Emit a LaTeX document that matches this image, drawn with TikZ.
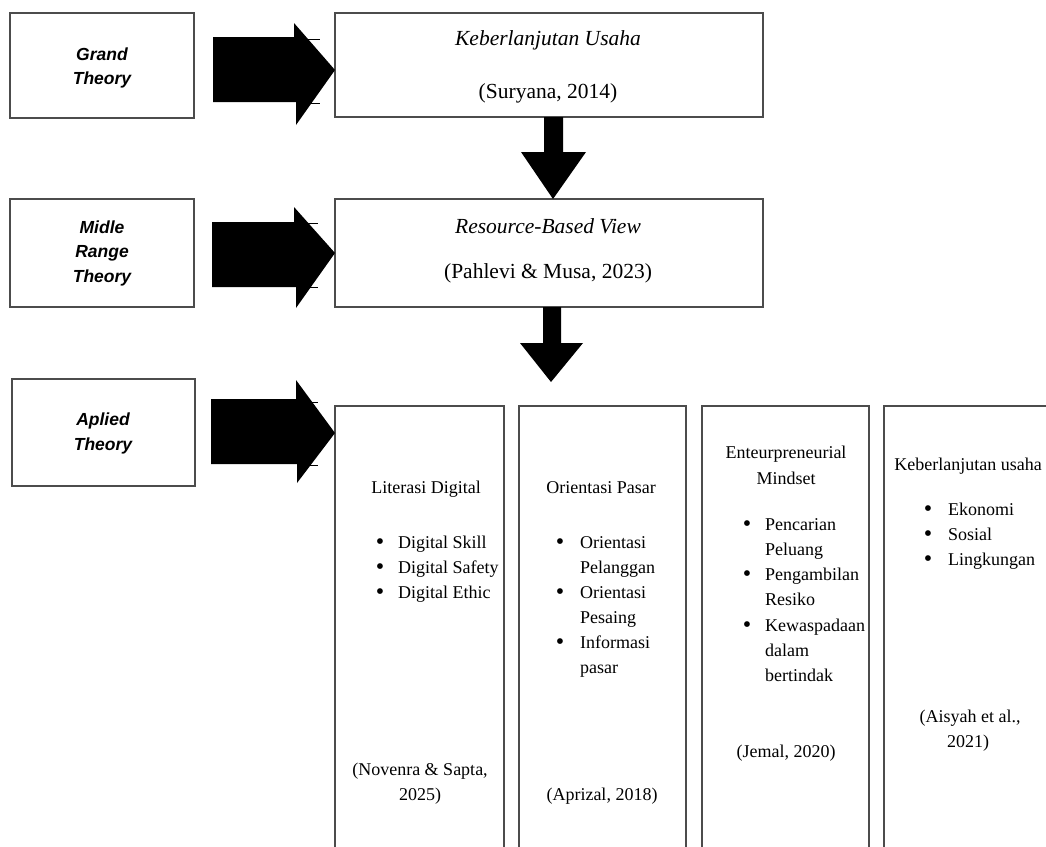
\documentclass[tikz,border=0pt]{standalone}
\usepackage{fontspec}
\setmainfont{Liberation Serif}
\newfontfamily\arialf{Liberation Sans}
\newcommand\bulletmark{{\fontsize{24}{25}\selectfont\textbullet}}
\begin{document}
\begin{tikzpicture}[x=1pt,y=-1pt,
  frame/.style={draw=black!70, line width=1.3pt, inner sep=0, outer sep=0},
  lbl/.style={font=\arialf\bfseries\itshape\fontsize{17.5}{24}\selectfont, anchor=base, inner sep=0},
  ttl/.style={font=\itshape\fontsize{21.5}{26}\selectfont, anchor=base, inner sep=0},
  cit/.style={font=\fontsize{21.5}{26}\selectfont, anchor=base, inner sep=0},
  bt/.style={font=\fontsize{18}{25}\selectfont, anchor=base, inner sep=0},
  btl/.style={bt, anchor=base west},
  blockarrow/.style={fill=black, draw=none},
  tick/.style={draw=black, line width=0.6pt}]
\useasboundingbox[fill=white] (0,0) rectangle (1046,846);
\clip (0,0) rectangle (1046,846);

% left label boxes
\node[frame, minimum width=184pt, minimum height=105pt] (gt) at (102,65.5) {};
\node[frame, minimum width=184pt, minimum height=108pt] (mt) at (102,253) {};
\node[frame, minimum width=183pt, minimum height=107pt] (at) at (103.5,432.5) {};
\node[lbl] (gt1) at (102,60) {Grand};
\node[lbl] (gt2) at (102,84) {Theory};
\node[lbl] (mt1) at (102,233) {Midle};
\node[lbl] (mt2) at (102,257.5) {Range};
\node[lbl] (mt3) at (102,282) {Theory};
\node[lbl] (at1) at (103,425) {Aplied};
\node[lbl] (at2) at (103,450) {Theory};

% top theory boxes
\node[frame, minimum width=428pt, minimum height=104pt] (kb) at (549,65) {};
\node[frame, minimum width=428pt, minimum height=108pt] (rbv) at (549,253) {};
\node[ttl] (kb1) at (548,45) {Keberlanjutan Usaha};
\node[cit] (kb2) at (548,98) {(Suryana, 2014)};
\node[ttl] (rbv1) at (548,233) {Resource-Based View};
\node[cit] (rbv2) at (548,278) {(Pahlevi \& Musa, 2023)};

% bottom variable boxes
\node[frame, minimum width=169pt, minimum height=460pt] (b1) at (419.5,636) {};
\node[frame, minimum width=167pt, minimum height=460pt] (b2) at (602.5,636) {};
\node[frame, minimum width=167pt, minimum height=460pt] (b3) at (785.5,636) {};
\node[frame, minimum width=180pt, minimum height=460pt] (b4) at (974,636) {};

% box 1
\node[bt] (t1) at (426,493) {Literasi Digital};
\node[bt] (d1a) at (380,549) {\bulletmark};
\node[btl] (e1a) at (398,548) {Digital Skill};
\node[bt] (d1b) at (380,574) {\bulletmark};
\node[btl] (e1b) at (398,573) {Digital Safety};
\node[bt] (d1c) at (380,599) {\bulletmark};
\node[btl] (e1c) at (398,598) {Digital Ethic};
\node[bt] (c1a) at (420,775) {(Novenra \& Sapta,};
\node[bt] (c1b) at (420,800) {2025)};

% box 2
\node[bt] (t2) at (601,493) {Orientasi Pasar};
\node[bt] (d2a) at (560,549) {\bulletmark};
\node[btl] (e2a) at (580,548) {Orientasi};
\node[btl] (e2b) at (580,573) {Pelanggan};
\node[bt] (d2c) at (560,599) {\bulletmark};
\node[btl] (e2c) at (580,598) {Orientasi};
\node[btl] (e2d) at (580,623) {Pesaing};
\node[bt] (d2e) at (560,649) {\bulletmark};
\node[btl] (e2e) at (580,648) {Informasi};
\node[btl] (e2f) at (580,673) {pasar};
\node[bt] (c2a) at (602,800) {(Aprizal, 2018)};

% box 3
\node[bt] (t3a) at (786,458) {Enteurpreneurial};
\node[bt] (t3b) at (786,484) {Mindset};
\node[bt] (d3a) at (747,531) {\bulletmark};
\node[btl] (e3a) at (765,530) {Pencarian};
\node[btl] (e3b) at (765,555) {Peluang};
\node[bt] (d3c) at (747,581) {\bulletmark};
\node[btl] (e3c) at (765,580) {Pengambilan};
\node[btl] (e3d) at (765,605) {Resiko};
\node[bt] (d3e) at (747,632) {\bulletmark};
\node[btl] (e3e) at (765,631) {Kewaspadaan};
\node[btl] (e3f) at (765,656) {dalam};
\node[btl] (e3g) at (765,681) {bertindak};
\node[bt] (c3a) at (786,757) {(Jemal, 2020)};

% box 4
\node[bt] (t4) at (968,470) {Keberlanjutan usaha};
\node[bt] (d4a) at (928,516) {\bulletmark};
\node[btl] (e4a) at (948,515) {Ekonomi};
\node[bt] (d4b) at (928,541) {\bulletmark};
\node[btl] (e4b) at (948,540) {Sosial};
\node[bt] (d4c) at (928,566) {\bulletmark};
\node[btl] (e4c) at (948,565) {Lingkungan};
\node[bt] (c4a) at (970,722) {(Aisyah et al.,};
\node[bt] (c4b) at (968,747) {2021)};

% right block arrows (label box -> theory box)
\fill[blockarrow] (213,37) -- (294,37) -- (294,23) -- (kb.west |- 0,70) -- (296,125) -- (296,102) -- (213,102) -- cycle;
\draw[tick] (300,39) -- (320,39);
\draw[tick] (300,103) -- (320,103);

\fill[blockarrow] (212,222) -- (294,222) -- (294,207) -- (rbv.west |- 0,253) -- (296,308) -- (296,287) -- (212,287) -- cycle;
\draw[tick] (300,223) -- (318,223);
\draw[tick] (300,287) -- (318,287);

\fill[blockarrow] (211,399) -- (296,399) -- (296,380) -- (b1.north west |- 0,433) -- (297,483) -- (297,464) -- (211,464) -- cycle;
\draw[tick] (300,402) -- (318,402);
\draw[tick] (300,465) -- (318,465);

% down block arrows
\fill[blockarrow] (544,117) -- (563,117) -- (563,152) -- (586,152) -- (553,199) -- (521,152) -- (544,152) -- cycle;
\fill[blockarrow] (543,307) -- (561,307) -- (561,343) -- (583,343) -- (551,382) -- (520,343) -- (543,343) -- cycle;
\end{tikzpicture}
\end{document}
